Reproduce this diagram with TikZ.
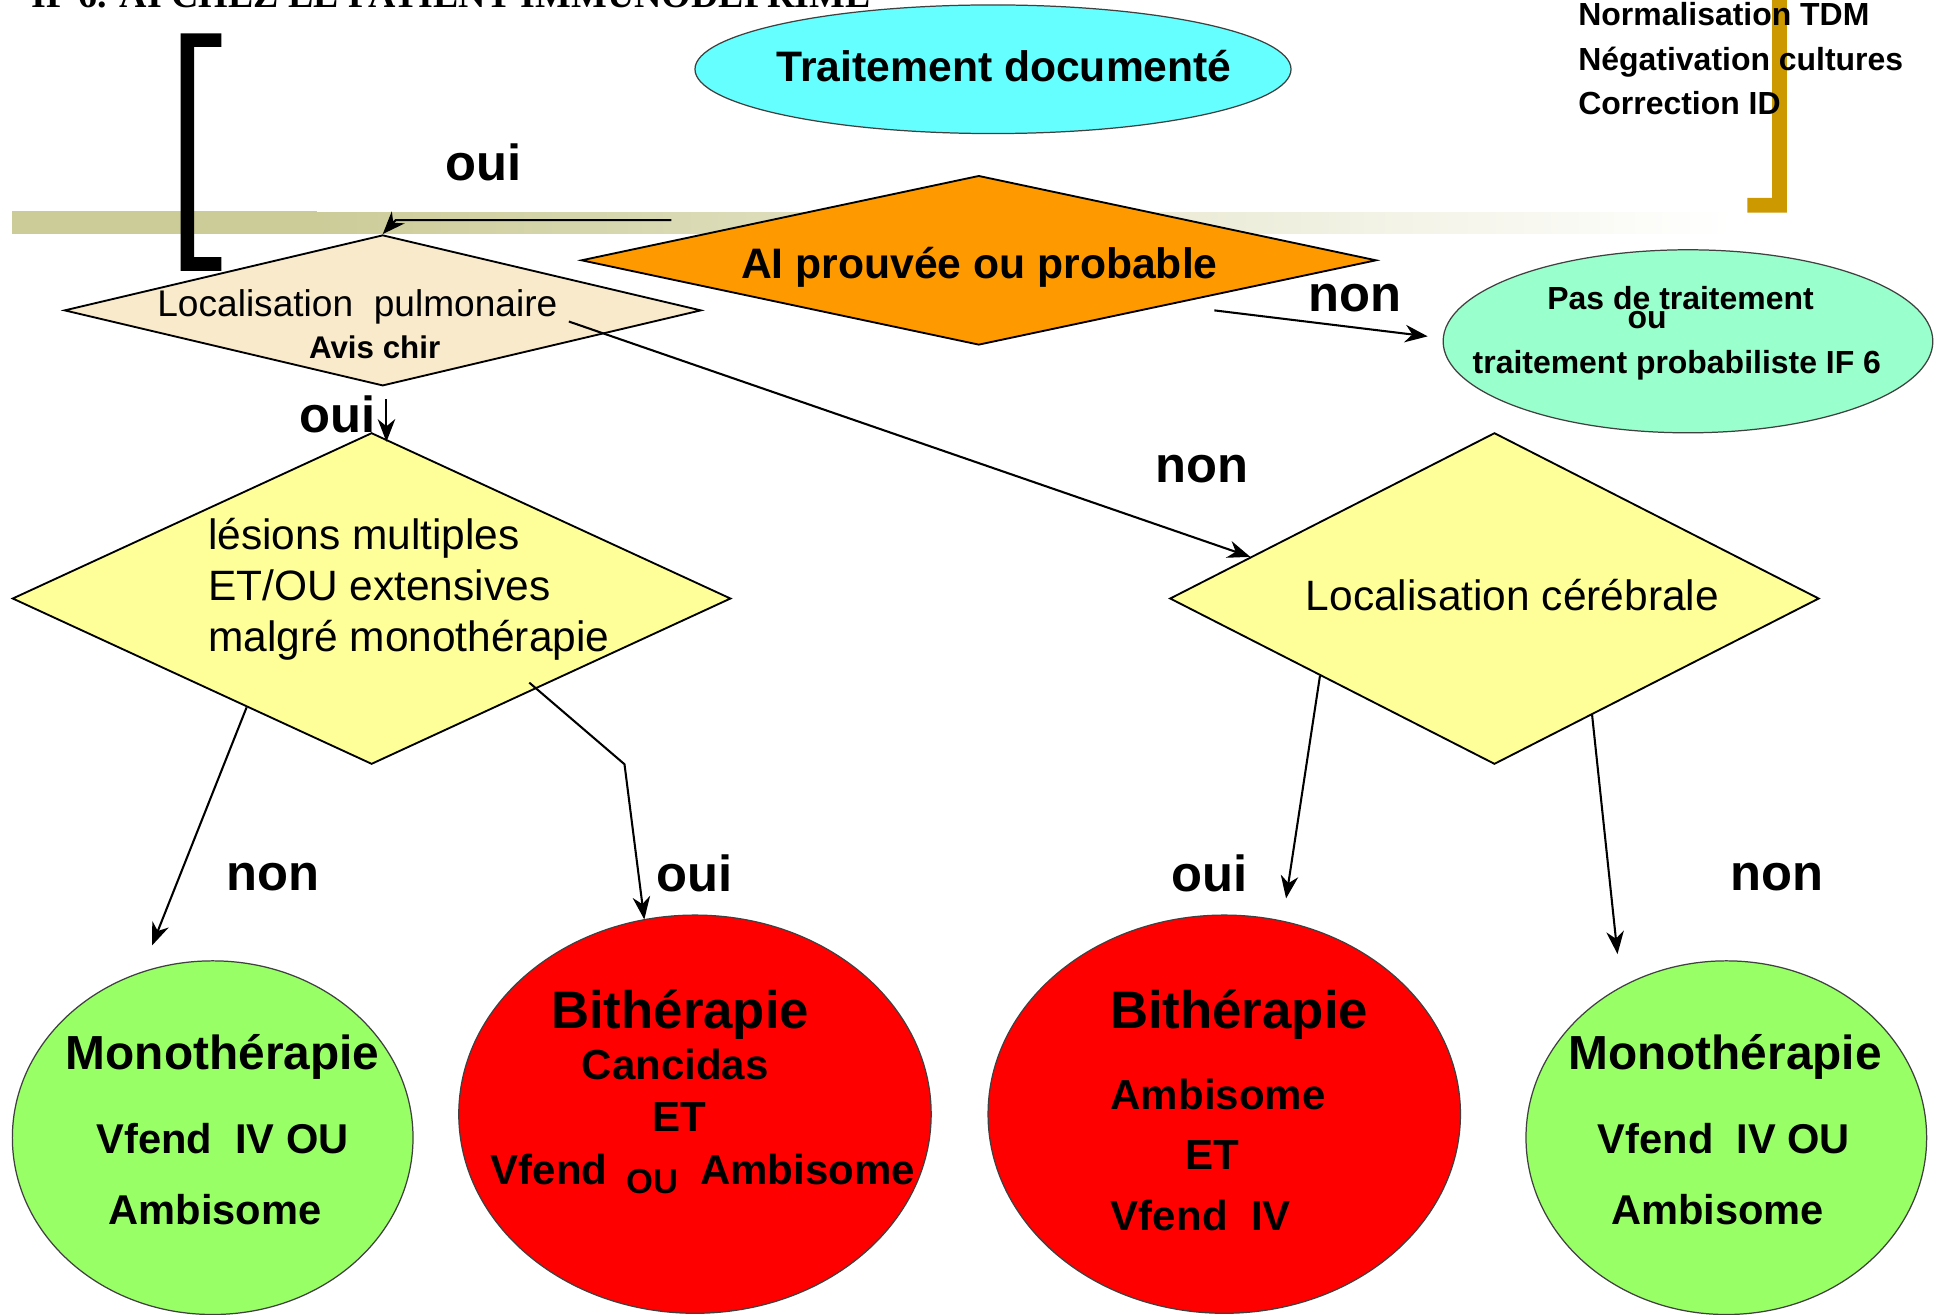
\documentclass[tikz,border=0pt]{standalone}
\usepackage{fontspec}
\setmainfont{Liberation Sans}
\newfontfamily\titlefont{Liberation Serif}
\usetikzlibrary{shapes.geometric,arrows.meta,calc}
\definecolor{cyanfill}{HTML}{66FFFF}
\definecolor{orangefill}{HTML}{FF9900}
\definecolor{mintfill}{HTML}{99FFCC}
\definecolor{pulmfill}{HTML}{F8EACB}
\definecolor{yellowfill}{HTML}{FFFF99}
\definecolor{greenfill}{HTML}{99FF66}
\definecolor{redfill}{HTML}{FF0000}
\definecolor{olivebar}{HTML}{CCCC99}
\definecolor{goldbr}{HTML}{CC9900}
\begin{document}
\begin{tikzpicture}[x=0.6pt,y=-0.6pt,
  dia/.style={diamond, draw=black, line width=0.9pt, inner sep=0pt},
  ell/.style={ellipse, draw=black!75, line width=0.6pt, inner sep=0pt},
  conn/.style={line width=1pt, -{Stealth[length=11pt,width=8.5pt,inset=3.5pt]}},
  txt/.style={inner sep=0pt, anchor=base},
  fb/.style={font=\fontsize{#1}{#1}\selectfont\bfseries},
  fr/.style={font=\fontsize{#1}{#1}\selectfont},
  lbl/.style={txt, fb=24.6}
]
\useasboundingbox (0,0) rectangle (1568,1063);
\fill[white] (0,0) rectangle (1568,1063);

% title (cut at top)
\node[txt, anchor=base west, font=\titlefont\bfseries\fontsize{18.4}{18.4}\selectfont] (title) at (25,6) {IF 6. AI CHEZ LE PATIENT IMMUNODEPRIME};

% gradient bar
\fill[olivebar] (10,171) rectangle (256,189);
\shade[left color=olivebar, right color=white] (255,172) rectangle (1400,189);

% black bracket
\fill[black] (146,27) -- (179,27) -- (179,38) -- (157,38) -- (157,208) -- (179,208) -- (179,219) -- (146,219) -- cycle;
% gold bracket
\fill[goldbr] (1433,-5) -- (1445,-5) -- (1445,172) -- (1413,172) -- (1413,160) -- (1433,160) -- cycle;

% top right text
\node[txt, anchor=base west, fb=15.5] (n1) at (1276,21) {Normalisation TDM};
\node[txt, anchor=base west, fb=15.5] (n2) at (1276,57) {Négativation cultures};
\node[txt, anchor=base west, fb=15.5] (n3) at (1276,93) {Correction ID};

% shapes
\node[ell, fill=cyanfill, minimum width=289.2pt, minimum height=62.4pt] (trait) at (803,56) {};
\node[dia, fill=orangefill, minimum width=385.8pt, minimum height=82.2pt] (ai) at (791.5,210.5) {};
\node[ell, fill=mintfill, minimum width=237.6pt, minimum height=88.8pt] (pas) at (1365,276) {};
\node[dia, fill=pulmfill, minimum width=309pt, minimum height=73.2pt] (pulm) at (309.5,251) {};
\node[dia, fill=yellowfill, minimum width=348.6pt, minimum height=160.8pt] (big) at (300.5,484) {};
\node[dia, fill=yellowfill, minimum width=315pt, minimum height=160.8pt] (cereb) at (1208.5,484) {};
\node[ell, fill=greenfill, minimum width=194.4pt, minimum height=171.6pt] (greenL) at (172,920) {};
\node[ell, fill=redfill, minimum width=229.2pt, minimum height=193.2pt] (redL) at (562,901) {};
\node[ell, fill=redfill, minimum width=229.2pt, minimum height=193.2pt] (redR) at (990,901) {};
\node[ell, fill=greenfill, minimum width=194.4pt, minimum height=171.6pt] (greenR) at (1396,920) {};

% texts in shapes
\node[txt, fb=20.7] (ttrait) at (812,66) {Traitement documenté};
\node[txt, fb=20.7] (tai) at (792,225) {AI prouvée ou probable};
\node[txt, fb=15.5] (tpas1) at (1359,250) {Pas de traitement};
\node[txt, fb=15.5] (tpas2) at (1332,266) {ou};
\node[txt, fb=15.5] (tpas3) at (1356,302) {traitement probabiliste IF 6};
\node[txt, fr=18] (tpulm1) at (289,256) {Localisation\ \ pulmonaire};
\node[txt, fb=15.2] (tpulm2) at (303,290) {Avis chir};
\node[txt, anchor=base west, fr=20.6] (tbig1) at (168,444) {lésions multiples};
\node[txt, anchor=base west, fr=20.6] (tbig2) at (168,486) {ET/OU extensives};
\node[txt, anchor=base west, fr=20.6] (tbig3) at (168,527) {malgré monothérapie};
\node[txt, fr=20.6] (tcereb) at (1223,494) {Localisation cérébrale};

\node[txt, fb=23.2] (gl1) at (180,865) {Monothérapie};
\node[txt, fb=20.2] (gl2) at (180,933) {Vfend\ \ IV OU};
\node[txt, fb=20.2] (gl3) at (174,990) {Ambisome};
\node[txt, fb=23.2] (gr1) at (1395,865) {Monothérapie};
\node[txt, fb=20.2] (gr2) at (1394,933) {Vfend\ \ IV OU};
\node[txt, fb=20.2] (gr3) at (1389,990) {Ambisome};

\node[txt, fb=25.6] (rl1) at (550,832) {Bithérapie};
\node[txt, fb=20.4] (rl2) at (546,873) {Cancidas};
\node[txt, fb=20.4] (rl3) at (549,915) {ET};
\node[txt, fb=20.4] (rl4) at (444,958) {Vfend};
\node[txt, fb=16.8] (rl5) at (528,965) {OU};
\node[txt, fb=20.4] (rl6) at (653,958) {Ambisome};

\node[txt, fb=25.6] (rr1) at (1002,832) {Bithérapie};
\node[txt, fb=20.4] (rr2) at (985,897) {Ambisome};
\node[txt, fb=20.4] (rr3) at (980,946) {ET};
\node[txt, anchor=base west, fb=20.4] (rr4) at (898,995) {Vfend\ \ IV};

% labels
\node[lbl] (l1) at (391,146) {oui};
\node[lbl] (l2) at (1096,252) {non};
\node[lbl] (l3) at (273,350) {oui};
\node[lbl] (l4) at (972,390) {non};
\node[lbl] (l5) at (221,720) {non};
\node[lbl] (l6) at (562,721) {oui};
\node[lbl] (l7) at (978,721) {oui};
\node[lbl] (l8) at (1437,720) {non};

% connectors
\coordinate (aiOui) at (543,178);
\coordinate (aiNon) at (982,251);
\coordinate (pulmNon) at (460,260);
\coordinate (bigOui) at (428,552);
\draw[conn] (aiOui) -- ++(-223,0) -- (pulm.north);
\draw[conn] (aiNon) -- ($(pas.west)+(-12,-4)$);
\draw[conn] (pulmNon) -- ($(cereb.west)!0.25!(cereb.north)$);
\draw[conn] ($(pulm.south)+(3,10)$) -- ($(big.north)+(12,8)$);
\draw[conn] ($(big.west)!0.653!(big.south)$) -- ($(greenL.north)+(-49,-12)$);
\draw[conn] (bigOui) -- ++(77,66) -- ($(redL.north)+(-41,4)$);
\draw[conn] ($(cereb.west)!0.464!(cereb.south)$) -- ($(redR.north)+(50,-13)$);
\draw[conn] ($(cereb.east)!0.70!(cereb.south)$) -- ($(greenR.north)+(-88,-5)$);
\end{tikzpicture}
\end{document}
